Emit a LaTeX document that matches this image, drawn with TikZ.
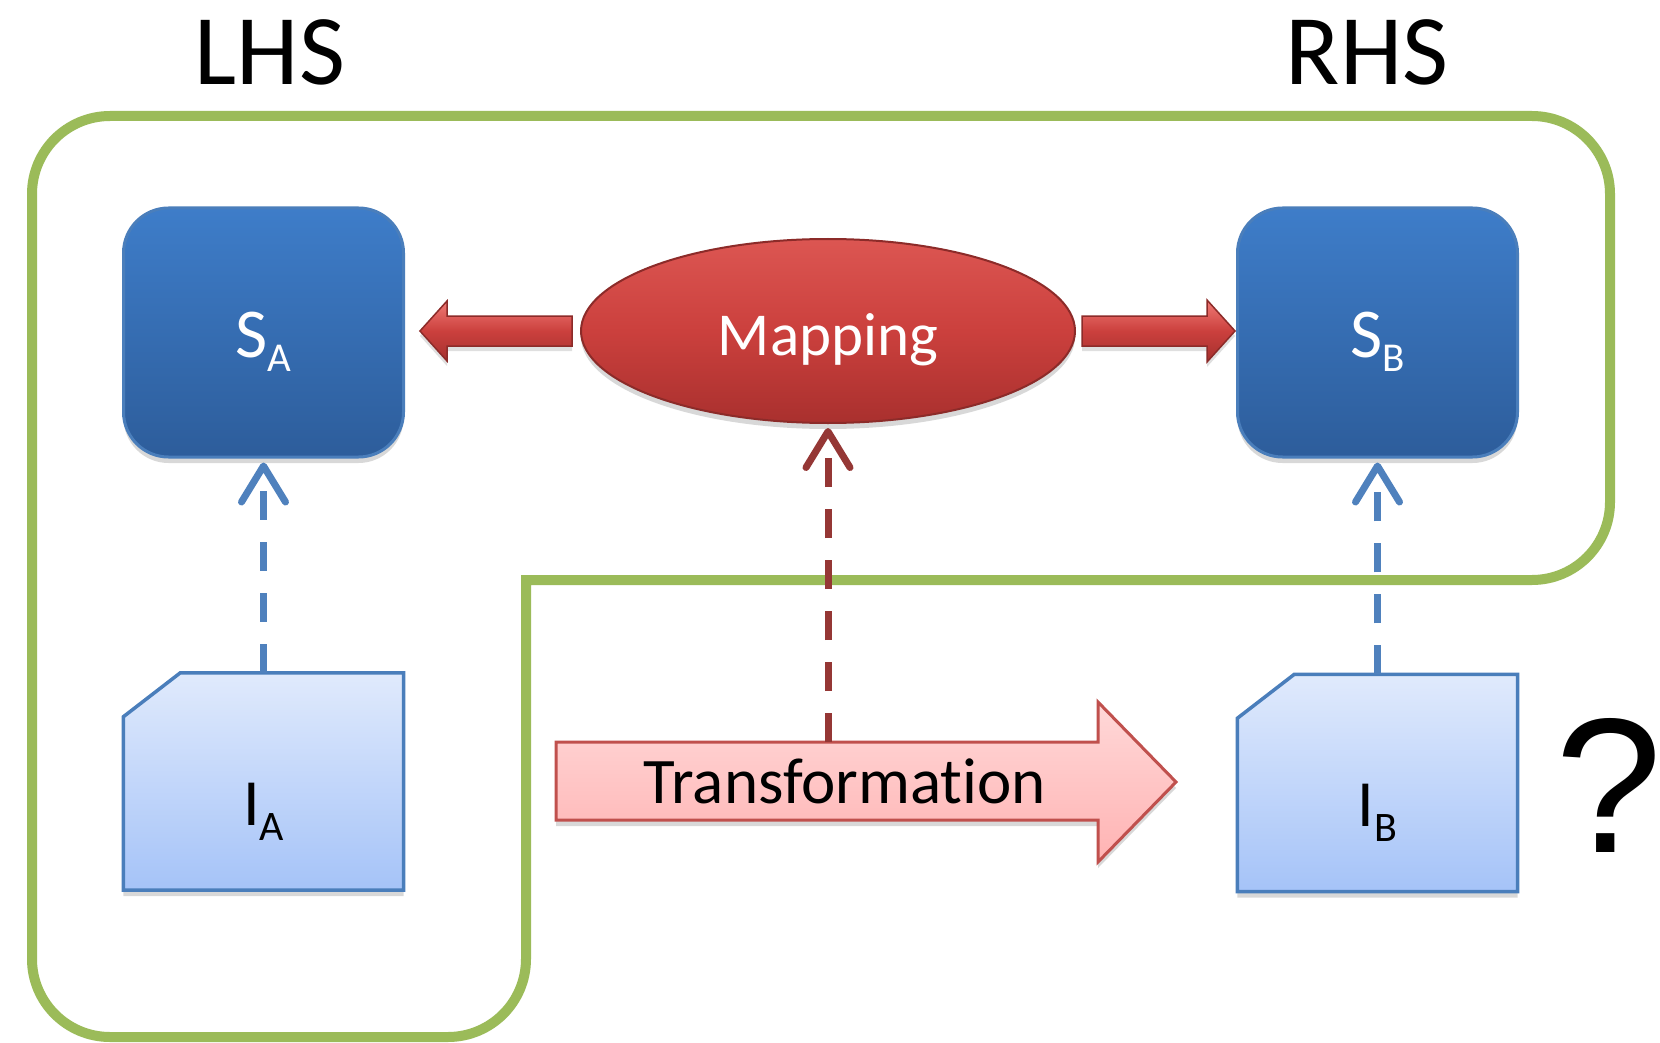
\documentclass[tikz,border=0pt]{standalone}
\usepackage{fontspec}
\setmainfont{Carlito}[Ligatures=NoCommon]
\newfontfamily\qfont{Liberation Sans}
\usetikzlibrary{shapes.geometric,shadows,calc,arrows.meta}
\pgfdeclarelayer{background}
\pgfdeclarelayer{canvas}
\pgfsetlayers{canvas,background,main}
\definecolor{grn}{HTML}{9BBB59}
\definecolor{sTop}{HTML}{3E7DC9}
\definecolor{sBot}{HTML}{2D5D9B}
\definecolor{sBorder}{HTML}{4A7EBB}
\definecolor{iTop}{HTML}{E0EAFC}
\definecolor{iBot}{HTML}{A5C3F8}
\definecolor{iBorder}{HTML}{4A7EBB}
\definecolor{mapTop}{HTML}{DC5652}
\definecolor{mapMid}{HTML}{CB403D}
\definecolor{mapBot}{HTML}{A9302E}
\definecolor{mapBorder}{HTML}{8C2B29}
\definecolor{arrTop}{HTML}{F07A76}
\definecolor{arrBot}{HTML}{A5302E}
\definecolor{dashRed}{HTML}{953735}
\definecolor{dashBlue}{HTML}{4F81BD}
\definecolor{trTop}{HTML}{FFD8D8}
\definecolor{trBot}{HTML}{FFB3B3}
\definecolor{trBorder}{HTML}{C0504D}
\begin{document}
\begin{tikzpicture}[x=1pt,y=-1pt,
  shadowed/.style={drop shadow={opacity=0.3, shadow xshift=0pt, shadow yshift=-6pt}},
  greenline/.style={draw=grn, line width=10pt, rounded corners=78pt, line cap=rect},
  sbox/.style={rounded corners=45pt, draw=sBorder, line width=3pt, top color=sTop, bottom color=sBot,
    minimum width=280pt, minimum height=249pt, inner sep=0pt, text=white,
    text height=49pt, text depth=0pt, shadowed},
  ibox/.style={minimum width=280pt, minimum height=217pt, inner sep=0pt, text=black,
    text height=87pt, text depth=0pt},
  iboxshape/.style={draw=iBorder, line width=3.5pt, line join=miter, top color=iTop, bottom color=iBot, shadowed},
  mapnode/.style={ellipse, minimum width=494pt, minimum height=184pt, inner sep=0pt,
    top color=mapTop, bottom color=mapBot, middle color=mapMid, draw=mapBorder, line width=2pt,
    text=white, font=\fontsize{61}{61}\selectfont, text height=48pt, text depth=0pt, shadowed},
  redarrow/.style={draw=mapBorder, line width=1.5pt, line join=miter, top color=arrTop, bottom color=arrBot, middle color=mapMid,
    drop shadow={opacity=0.25, shadow xshift=0pt, shadow yshift=-5pt}},
  transarrow/.style={draw=trBorder, line width=3pt, line join=miter, top color=trTop, bottom color=trBot, shadowed},
  bluedash/.style={draw=dashBlue, line width=7pt, dash pattern=on 29pt off 22pt,
    -{Straight Barb[length=36pt, width=44pt, round]}, shorten >=4pt},
  reddash/.style={draw=dashRed, line width=7pt, dash pattern=on 29pt off 22pt,
    -{Straight Barb[length=36pt, width=44pt, round]}, shorten >=4pt},
  title/.style={font=\fontsize{100}{100}\selectfont, anchor=base, inner sep=0pt}
]
\useasboundingbox (0,0) rectangle (1660,1043);
\begin{pgfonlayer}{canvas}
\fill[white] (0,0) rectangle (1660,1043);
\end{pgfonlayer}

% green region outline
\draw[greenline] (526,580) -- (526,1037) -- (32,1037) -- (32,116) -- (1610,116) -- (1610,580) -- (526,580);

% titles
\node[title] (lhs) at (270,85) {LHS};
\node[title] (rhs) at (1367,85) {RHS};

% schema boxes
\node[sbox] (SA) at (263.5,332.5) {{\fontsize{70}{70}\selectfont S\raisebox{-14pt}{\fontsize{41}{41}\selectfont A}}};
\node[sbox] (SB) at (1377.5,332.5) {{\fontsize{70}{70}\selectfont S\raisebox{-14pt}{\fontsize{41}{41}\selectfont B}}};

% instance boxes
\node[ibox] (IA) at (263.5,781.5) {{\fontsize{66}{66}\selectfont I\raisebox{-15pt}{\fontsize{42}{42}\selectfont A}}};
\node[ibox] (IB) at (1377.5,783) {{\fontsize{66}{66}\selectfont I\raisebox{-15pt}{\fontsize{42}{42}\selectfont B}}};
\begin{pgfonlayer}{background}
\draw[iboxshape] ($(IA.north west)+(0,44)$) -- ($(IA.north west)+(57,0)$) -- (IA.north east) -- (IA.south east) -- (IA.south west) -- cycle;
\draw[iboxshape] ($(IB.north west)+(0,44)$) -- ($(IB.north west)+(57,0)$) -- (IB.north east) -- (IB.south east) -- (IB.south west) -- cycle;
\end{pgfonlayer}

% mapping
\node[mapnode] (map) at (828,331) {Mapping};

% block arrows from mapping
\draw[redarrow] (572,316) -- (447,316) -- (447,301) -- (420,331) -- (447,361) -- (447,346) -- (572,346) -- cycle;
\draw[redarrow] (1082,316) -- (1207,316) -- (1207,300) -- (1235,331) -- (1207,362) -- (1207,346) -- (1082,346) -- cycle;

% transformation arrow
\draw[transarrow] (556,742) -- (1098,742) -- (1098,702) -- (1176,782) -- (1098,862) -- (1098,820) -- (556,820) -- cycle;
\node[font=\fontsize{65}{65}\selectfont, anchor=base, inner sep=0pt] (trans) at (845,803) {Transformation};
\coordinate (trtop) at (828,742);

% question mark
\node[font=\qfont\fontsize{192}{192}\selectfont, anchor=base, inner sep=0pt] (q) at (1609,852) {?};

% dashed connectors
\draw[bluedash] (IA.north) -- (SA.south);
\draw[bluedash] (IB.north) -- (SB.south);
\draw[reddash] (trtop) -- (map.south);
\end{tikzpicture}
\end{document}
